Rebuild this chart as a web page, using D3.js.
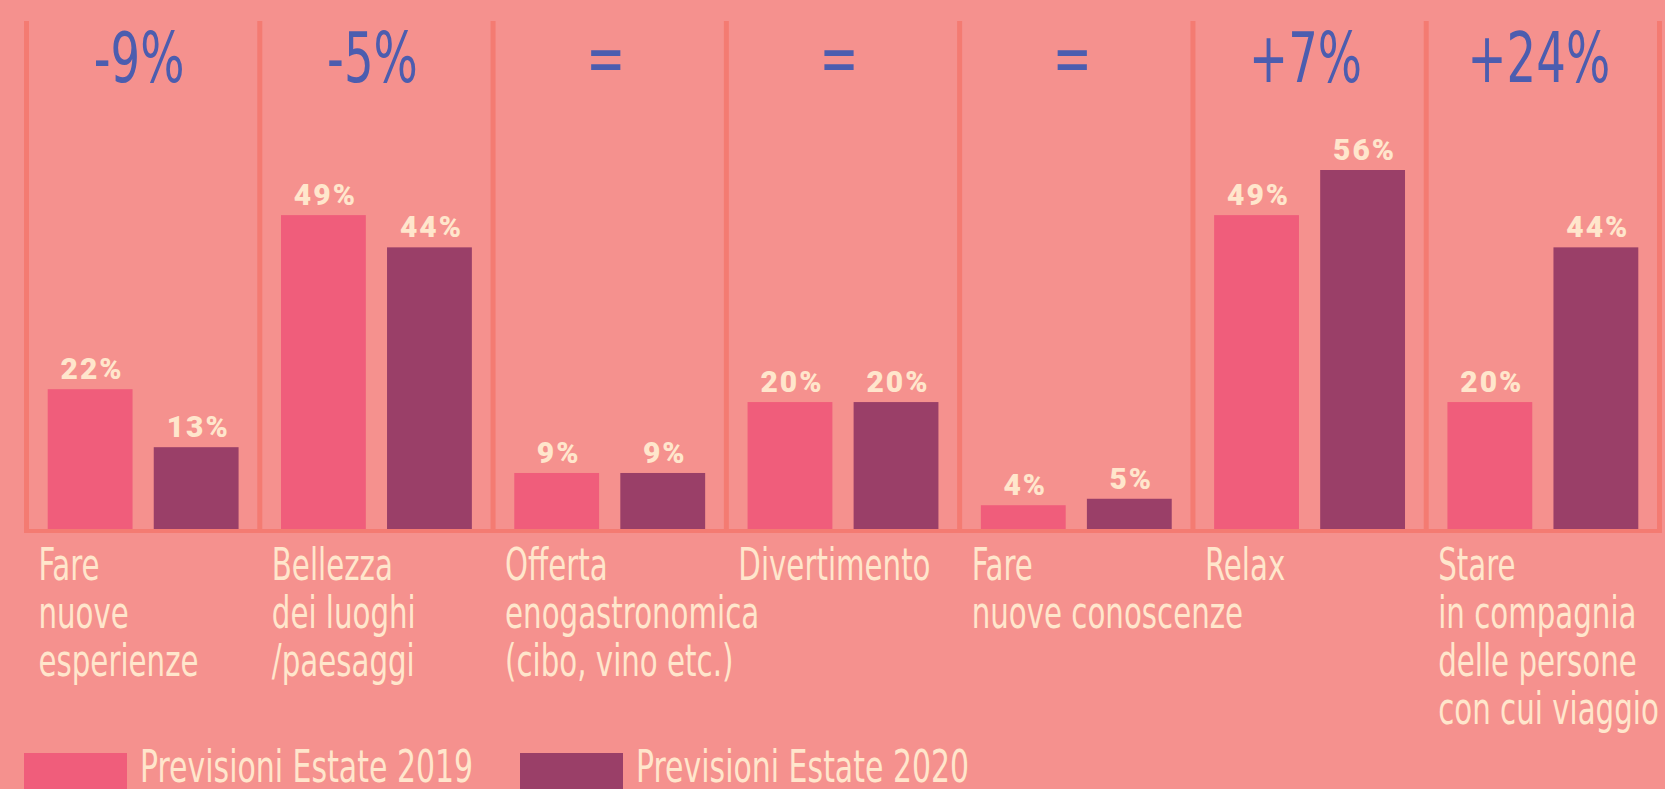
<!DOCTYPE html>
<html>
<head>
<meta charset="utf-8">
<script src="https://cdn.jsdelivr.net/npm/d3@7"></script>
<style>
  body { margin: 0; background: #F5918E; overflow: hidden; }
  .cond { font-family: 'Liberation Sans Narrow', 'DejaVu Sans Condensed', sans-serif; font-stretch: condensed; }
  .val { font-family: Roboto, sans-serif; font-weight: 900; }
</style>
</head>
<body>
<svg id="chart"></svg>
<script>
// data
const categories = [
  'Fare\nnuove\nesperienze',
  'Bellezza\ndei luoghi\n/paesaggi',
  'Offerta\nenogastronomica\n(cibo, vino etc.)',
  'Divertimento',
  'Fare\nnuove conoscenze',
  'Relax',
  'Stare\nin compagnia\ndelle persone\ncon cui viaggio',
];
const values2019 = [22, 49, 9, 20, 4, 49, 20];
const values2020 = [13, 44, 9, 20, 5, 56, 44];
const deltas = ['-9%', '-5%', '=', '=', '=', '+7%', '+24%'];
const seriesNames = ['Previsioni Estate 2019', 'Previsioni Estate 2020'];

const w = 1665;
const h = 789;
const colors = ['#F05D7B', '#9A3F68'];
const lineColor = '#F47B72';
const cream = '#FFE6CC';
const blue = '#4C5DAF';
// the font on hand is wider than the condensed face of the original, so squeeze it
const squeeze = 0.74;

const rows = categories.map((c, i) => ({ cat: c, v: [values2019[i], values2020[i]], delta: deltas[i] }));

const svg = d3.select('#chart').attr('width', w).attr('height', h);
svg.append('rect').attr('width', w).attr('height', h).attr('fill', '#F5918E');

const x0 = d3.scaleBand()
  .domain(categories)
  .range([26.5, 1659.5])
  .padding(0);

const x1 = d3.scaleBand()
  .domain([0, 1])
  .range([0, x0.bandwidth()])
  .paddingInner(0.2)
  .paddingOuter(0.2);

const y = d3.scaleLinear()
  .domain([0, 56])
  .range([531, 170]);

// panel separators
const seps = categories.map((c) => x0(c)).concat([x0.range()[1]]);
svg.selectAll('line.sep')
  .data(seps)
  .join('line')
  .attr('class', 'sep')
  .attr('x1', (d) => d)
  .attr('x2', (d) => d)
  .attr('y1', 21)
  .attr('y2', y(0))
  .attr('stroke', lineColor)
  .attr('stroke-width', 5);

const groups = svg.selectAll('g.cat')
  .data(rows)
  .join('g')
  .attr('class', 'cat')
  .attr('transform', (d) => `translate(${x0(d.cat)},0)`);

groups.selectAll('rect')
  .data((d) => d.v)
  .join('rect')
  .attr('x', (d, i) => x1(i))
  .attr('y', (d) => y(d))
  .attr('width', x1.bandwidth())
  .attr('height', (d) => y(0) - y(d))
  .attr('fill', (d, i) => colors[i]);

groups.selectAll('text.val')
  .data((d) => d.v)
  .join('text')
  .attr('class', 'val')
  .attr('x', (d, i) => x1(i) + x1.bandwidth() / 2 + 2)
  .attr('y', (d) => y(d) - 10)
  .attr('text-anchor', 'middle')
  .attr('fill', cream)
  .attr('font-size', 30)
  .attr('letter-spacing', 2)
  .text((d) => `${d}%`);

// change above each panel
groups.append('text')
  .attr('class', 'cond')
  .attr('transform', `translate(${x0.bandwidth() / 2 - 4},82) scale(${squeeze},1)`)
  .attr('text-anchor', 'middle')
  .attr('fill', blue)
  .attr('font-size', 70)
  .text((d) => d.delta);

// baseline
svg.append('line')
  .attr('x1', 24)
  .attr('x2', 1662)
  .attr('y1', y(0))
  .attr('y2', y(0))
  .attr('stroke', lineColor)
  .attr('stroke-width', 4);

// category labels
groups.append('text')
  .attr('class', 'cond')
  .attr('transform', `translate(12,0) scale(${squeeze},1)`)
  .attr('fill', cream)
  .attr('font-size', 44)
  .selectAll('tspan')
  .data((d) => d.cat.split('\n'))
  .join('tspan')
  .attr('x', 0)
  .attr('y', (d, i) => 580 + i * 48)
  .text((d) => d);

// legend
const legendX = [24, 520];
const legend = svg.selectAll('g.legend')
  .data(seriesNames)
  .join('g')
  .attr('class', 'legend')
  .attr('transform', (d, i) => `translate(${legendX[i]},753)`);
legend.append('rect')
  .attr('width', 103)
  .attr('height', 40)
  .attr('fill', (d, i) => colors[i]);
legend.append('text')
  .attr('class', 'cond')
  .attr('transform', `translate(116,29) scale(${squeeze},1)`)
  .attr('fill', cream)
  .attr('font-size', 45)
  .text((d) => d);
</script>
</body>
</html>
